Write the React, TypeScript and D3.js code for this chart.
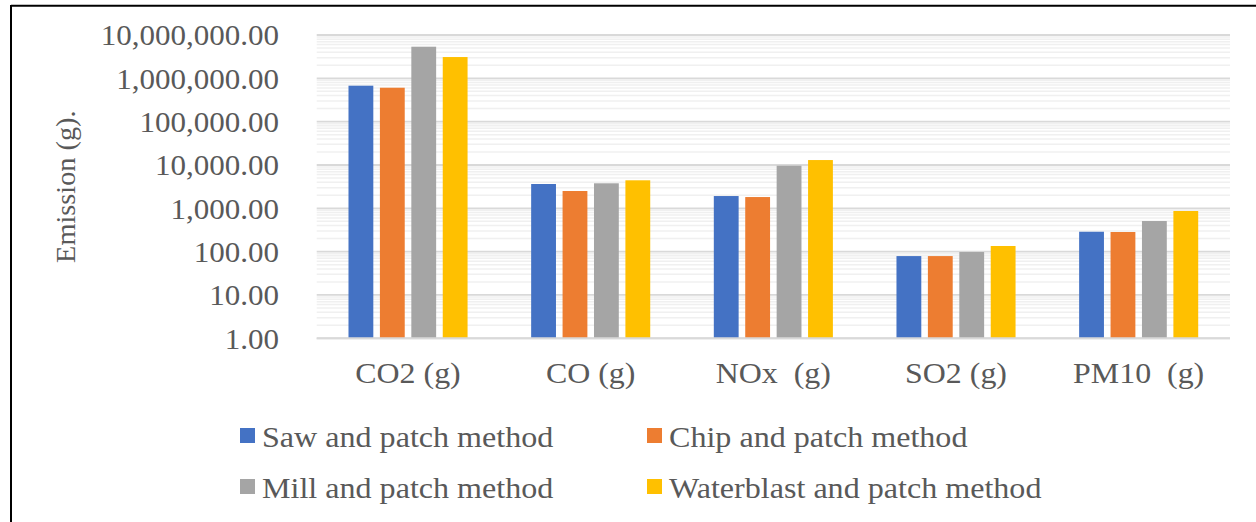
import React from "react";
import * as d3 from "d3";

const categories = ["CO2 (g)", "CO (g)", "NOx  (g)", "SO2 (g)", "PM10  (g)"];
const seriesNames = [
  "Saw and patch method",
  "Chip and patch method",
  "Mill and patch method",
  "Waterblast and patch method",
];
const sawValues = [676000, 3640, 1920, 79, 288];
const chipValues = [607000, 2510, 1820, 79, 284];
const millValues = [5370000, 3780, 9620, 98, 509];
const waterblastValues = [3100000, 4430, 13000, 135, 867];
const seriesColors = ["#4472C4", "#ED7D31", "#A5A5A5", "#FFC000"];
const yTicks = [1, 10, 100, 1000, 10000, 100000, 1000000, 10000000];

const W = 1256;
const H = 522;
const plotLeft = 316.7;
const plotRight = 1230;
const plotTop = 35;
const plotBottom = 338.3;
const FONT = "'Liberation Serif', 'Times New Roman', serif";
const TEXT = "#595959";
const SX = 1.07;

export default function App() {
  const seriesValues = [sawValues, chipValues, millValues, waterblastValues];
  const y = d3.scaleLog().domain([1, 1e7]).range([plotBottom, plotTop]);
  const x0 = d3
    .scaleBand<string>()
    .domain(categories)
    .range([plotLeft, plotRight])
    .paddingInner(0)
    .paddingOuter(0);
  const catW = x0.bandwidth();
  const groupW = catW * 0.688;
  const x1 = d3
    .scaleBand<number>()
    .domain([0, 1, 2, 3])
    .range([(catW - groupW) / 2, (catW + groupW) / 2])
    .paddingInner(0.21)
    .paddingOuter(0.105);

  const minor: number[] = [];
  for (let e = 0; e < 7; e++) {
    for (let m = 2; m <= 9; m++) minor.push(m * Math.pow(10, e));
  }
  const fmt = d3.format(",.2f");

  const legendPos = [
    { x: 240, y: 436 },
    { x: 647, y: 436 },
    { x: 240, y: 487 },
    { x: 647, y: 487 },
  ];

  return (
    <svg
      width={W}
      height={H}
      style={{ position: "absolute", left: 0, top: 0, background: "#fff" }}
    >
      <rect x={0} y={0} width={W} height={H} fill="#fff" />
      <line x1={11} y1={5.7} x2={W + 5} y2={5.7} stroke="#000" strokeWidth={2} />
      <line x1={11} y1={5} x2={11} y2={H + 5} stroke="#000" strokeWidth={2} />

      {minor.map((v, i) => (
        <line
          key={"mn" + i}
          x1={plotLeft}
          x2={plotRight}
          y1={y(v)}
          y2={y(v)}
          stroke="#F0F0F0"
          strokeWidth={1.5}
        />
      ))}
      {yTicks.map((v, i) => (
        <line
          key={"mj" + i}
          x1={plotLeft}
          x2={plotRight}
          y1={y(v)}
          y2={y(v)}
          stroke="#D9D9D9"
          strokeWidth={1.8}
        />
      ))}

      {categories.map((c, ci) => (
        <g key={c} transform={`translate(${x0(c)},0)`}>
          {seriesValues.map((vals, si) => (
            <rect
              key={si}
              x={x1(si)}
              y={y(vals[ci])}
              width={x1.bandwidth()}
              height={plotBottom - y(vals[ci])}
              fill={seriesColors[si]}
            />
          ))}
        </g>
      ))}
      <line
        x1={plotLeft}
        x2={plotRight}
        y1={plotBottom}
        y2={plotBottom}
        stroke="#D9D9D9"
        strokeWidth={2}
      />

      {yTicks.map((v, i) => (
        <text
          key={"yt" + i}
          transform={`translate(279,${y(v)}) scale(${SX},1)`}
          dy="0.36em"
          textAnchor="end"
          fontFamily={FONT}
          fontSize={29}
          fill={TEXT}
        >
          {fmt(v)}
        </text>
      ))}

      {categories.map((c) => (
        <text
          key={"xl" + c}
          transform={`translate(${(x0(c) as number) + catW / 2},383) scale(1.1,1)`}
          textAnchor="middle"
          fontFamily={FONT}
          fontSize={29}
          fill={TEXT}
          style={{ whiteSpace: "pre" }}
        >
          {c}
        </text>
      ))}

      <text
        transform={`translate(75,${(plotTop + plotBottom) / 2}) rotate(-90)`}
        textAnchor="middle"
        fontFamily={FONT}
        fontSize={28.3}
        fill={TEXT}
      >
        Emission (g).
      </text>

      {seriesNames.map((n, i) => (
        <g key={n}>
          <rect
            x={legendPos[i].x}
            y={legendPos[i].y - 8}
            width={15}
            height={15}
            fill={seriesColors[i]}
          />
          <text
            transform={`translate(${legendPos[i].x + 22},${legendPos[i].y}) scale(${SX},1)`}
            dy="0.36em"
            fontFamily={FONT}
            fontSize={30}
            fill={TEXT}
          >
            {n}
          </text>
        </g>
      ))}
    </svg>
  );
}
